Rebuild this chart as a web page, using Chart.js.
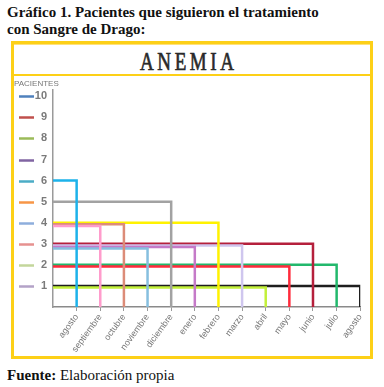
<!DOCTYPE html>
<html>
<head>
<meta charset="utf-8">
<script src="https://cdn.jsdelivr.net/npm/chart.js@4"></script>
<style>
  body { margin: 0; width: 384px; height: 387px; position: relative; background: #fff; font-family: 'Liberation Serif', serif; overflow: hidden; }
  #title { position: absolute; left: 7px; top: 4px; font-weight: bold; font-size: 15px; line-height: 17px; color: #111; }
  #box { position: absolute; left: 11px; top: 41px; width: 356px; height: 312px; border: 3px solid #fdd017; }
  #head { position: absolute; left: 0; top: 0; width: 356px; height: 29px; border-top: 1px solid #ffe27a; border-bottom: 2px solid #fdd017; }
  #head span { position: absolute; left: 126px; top: 3px; font-family: 'Liberation Serif', serif; font-size: 19px;
               line-height: 22px; letter-spacing: 3.6px; color: #2a2a2a; -webkit-text-stroke: 0.5px #2a2a2a;
               transform: scaleY(1.3); transform-origin: 50% 0; }
  #ylab { position: absolute; left: 0; top: 35px; font-family: 'Liberation Sans', sans-serif; font-size: 8px; color: #777; }
  #wrap { position: absolute; left: 0; top: 32px; width: 356px; height: 280px; }
  #foot { position: absolute; left: 7px; top: 367px; font-size: 15px; color: #111; }
</style>
</head>
<body>
<div id="title">Gráfico 1. Pacientes que siguieron el tratamiento<br>con Sangre de Drago:</div>
<div id="box">
  <div id="head"><span>ANEMIA</span></div>
  <div id="wrap"><canvas id="chart" width="356" height="280"></canvas></div>
  <div id="ylab">PACIENTES</div>
</div>
<div id="foot"><b>Fuente:</b> Elaboración propia</div>
<script>
// meses del tratamiento y pacientes por mes
const months = ['agosto', 'septiembre', 'octubre', 'noviembre', 'diciembre', 'enero', 'febrero',
                'marzo', 'abril', 'mayo', 'junio', 'julio', 'agosto'];
const patients = [6, 4, 4, 3, 5, 3, 4, 3, 1, 2, 3, 2, 1];
const lineColors = ['#1db2ea', '#ff9ccc', '#dc8c78', '#86bfdf', '#a2a2a2', '#c57ac8', '#fff200',
                    '#cfc6ee', '#c2f03a', '#ff2b3c', '#b5203c', '#22b86c', '#1e1e1e'];
const yTicks = [1, 2, 3, 4, 5, 6, 7, 8, 9, 10];
// colores de las marcas junto a cada valor del eje
const tickColors = ['#b3a2c7', '#c3d69b', '#e6918f', '#8eaedc', '#f79646', '#4bacc6', '#8064a2', '#9bbb59', '#c0504d', '#4f81bd'];

const datasets = patients.map((v, i) => ({
  label: months[i],
  data: [{ x: 0, y: v }, { x: i + 1, y: v }, { x: i + 1, y: 0 }],
  borderColor: lineColors[i],
  borderWidth: 2.5,
  pointRadius: 0,
  tension: 0,
  fill: false
}));

// lines sharing a value sit a little apart, later months on top
const stagger = {
  id: 'stagger',
  beforeDatasetDraw(chart, args) {
    const i = args.index;
    const later = patients.filter((p, j) => j > i && p === patients[i]).length;
    const a = chart.chartArea;
    const ctx = chart.ctx;
    ctx.save();
    ctx.beginPath();
    ctx.rect(a.left - 5, a.top - 5, a.right - a.left + 10, a.bottom - a.top + 5);
    ctx.clip();
    ctx.translate(0, later * 1.6);
  },
  afterDatasetDraw(chart) {
    chart.ctx.restore();
  }
};

const tickMarks = {
  id: 'tickMarks',
  afterDraw(chart) {
    const s = chart.scales.y;
    const ctx = chart.ctx;
    ctx.save();
    ctx.lineWidth = 2.5;
    yTicks.forEach((v, i) => {
      const y = Math.round(s.getPixelForValue(v)) + 0.5;
      ctx.strokeStyle = tickColors[i];
      ctx.beginPath();
      ctx.moveTo(s.left + 5, y);
      ctx.lineTo(s.left + 20, y);
      ctx.stroke();
    });
    ctx.restore();
  }
};

new Chart(document.getElementById('chart').getContext('2d'), {
  type: 'line',
  data: { datasets },
  options: {
    responsive: false,
    animation: false,
    devicePixelRatio: 1,
    layout: { padding: { top: 14, right: 9, bottom: 0, left: 0 } },
    plugins: { legend: { display: false }, tooltip: { enabled: false } },
    scales: {
      x: {
        type: 'linear',
        min: 0,
        max: months.length,
        afterBuildTicks: (scale) => { scale.ticks = months.map((m, i) => ({ value: i + 1 })); },
        afterFit: (scale) => { scale.height = 49; },
        ticks: {
          autoSkip: false,
          minRotation: 54,
          maxRotation: 54,
          padding: 1,
          color: '#777',
          font: { family: 'Liberation Sans', size: 9 },
          callback: (v) => months[v - 1]
        },
        grid: { drawOnChartArea: false, tickLength: 4, color: '#999' },
        border: { color: '#8a8a8a', width: 1.5 }
      },
      y: {
        min: 0,
        max: 10.3,
        afterBuildTicks: (scale) => { scale.ticks = yTicks.map(v => ({ value: v })); },
        afterFit: (scale) => { scale.width = 39; },
        ticks: {
          padding: 6,
          color: '#7a7a7a',
          font: { family: 'Liberation Sans', size: 11, weight: 'bold' }
        },
        grid: { drawOnChartArea: false, drawTicks: false },
        border: { color: '#9a9a9a', width: 1.5 }
      }
    }
  },
  plugins: [stagger, tickMarks]
});
</script>
</body>
</html>
